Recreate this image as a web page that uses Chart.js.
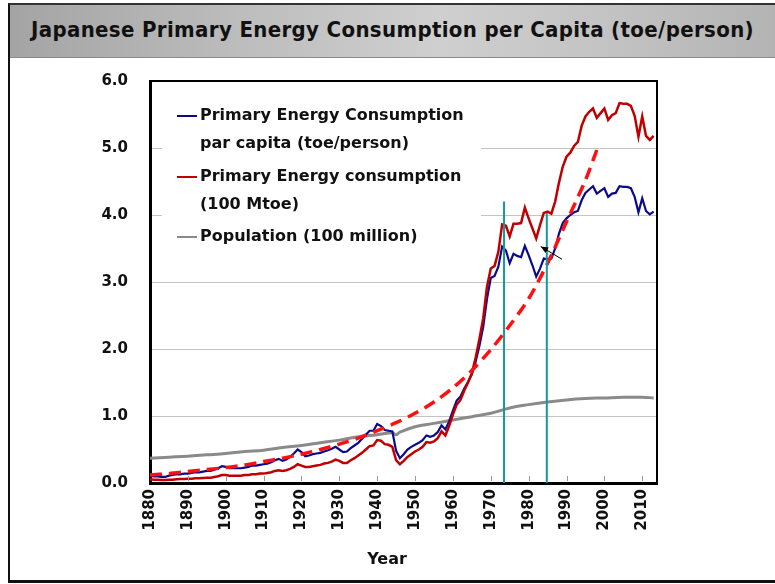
<!DOCTYPE html>
<html>
<head>
<meta charset="utf-8">
<script src="https://cdn.jsdelivr.net/npm/chart.js@4.4.0/dist/chart.umd.min.js"></script>
<style>
  html, body { margin: 0; padding: 0; background: #fff; }
  #page { position: relative; width: 775px; height: 584px; overflow: hidden; }
  #frame {
    position: absolute; left: 8px; top: 3px; width: 780px; height: 575px;
    border-left: 2px solid #111; border-top: 2px solid #333; border-bottom: 3px solid #111;
  }
  #titlebar {
    position: absolute; left: 0; top: 0; right: 0; height: 52px;
    background: linear-gradient(to right, #a4a4a4 0%, #bdbdbd 30%, #cfcfcf 55%, #c4c4c4 75%, #b2b2b2 100%);
    border-bottom: 1px solid #8a8a8a;
  }
  #title {
    position: absolute; left: 21px; top: 12px;
    font-family: "DejaVu Sans Condensed", "DejaVu Sans", sans-serif;
    font-weight: bold; font-size: 22px; letter-spacing: 0.35px; color: #111; white-space: nowrap;
  }
  #chart { position: absolute; left: 0; top: 0; }
</style>
</head>
<body>
<div id="page">
  <div id="frame">
    <div id="titlebar"><div id="title">Japanese Primary Energy Consumption per Capita (toe/person)</div></div>
  </div>
  <canvas id="chart" width="775" height="584"></canvas>
</div>
<script>
// data
const firstYear = 1880;

// primary energy consumption per capita (toe/person), 1880-2013
const perCapita = [
  0.11, 0.10, 0.10, 0.09, 0.09, 0.11, 0.12, 0.13, 0.13, 0.14,
  0.14, 0.15, 0.16, 0.16, 0.17, 0.18, 0.18, 0.20, 0.22, 0.25,
  0.24, 0.22, 0.22, 0.22, 0.22, 0.23, 0.24, 0.26, 0.26, 0.27,
  0.28, 0.29, 0.31, 0.34, 0.36, 0.33, 0.35, 0.39, 0.44, 0.50,
  0.46, 0.40, 0.41, 0.43, 0.44, 0.45, 0.47, 0.49, 0.51, 0.54,
  0.50, 0.46, 0.47, 0.52, 0.56, 0.60, 0.66, 0.72, 0.78, 0.78,
  0.88, 0.85, 0.79, 0.78, 0.77, 0.48, 0.37, 0.43, 0.50, 0.54,
  0.57, 0.60, 0.64, 0.71, 0.69, 0.71, 0.76, 0.86, 0.80, 0.92,
  1.08, 1.23, 1.29, 1.41, 1.51, 1.62, 1.81, 2.05, 2.33, 2.75,
  3.06, 3.09, 3.23, 3.53, 3.47, 3.28, 3.42, 3.39, 3.37, 3.54,
  3.40, 3.25, 3.08, 3.20, 3.35, 3.34, 3.35, 3.50, 3.72, 3.88,
  3.95, 4.00, 4.04, 4.06, 4.22, 4.33, 4.38, 4.43, 4.32, 4.36,
  4.40, 4.27, 4.32, 4.33, 4.43, 4.42, 4.42, 4.40, 4.27, 4.04,
  4.25, 4.06, 4.01, 4.05
];

// primary energy consumption (100 Mtoe), 1880-2013
const totalEnergy = [
  0.055, 0.05, 0.05, 0.045, 0.045, 0.05, 0.05, 0.055, 0.06, 0.06,
  0.065, 0.065, 0.07, 0.07, 0.075, 0.08, 0.08, 0.09, 0.10, 0.12,
  0.12, 0.11, 0.11, 0.11, 0.11, 0.12, 0.12, 0.13, 0.13, 0.14,
  0.14, 0.15, 0.16, 0.18, 0.19, 0.18, 0.19, 0.21, 0.24, 0.28,
  0.26, 0.24, 0.24, 0.25, 0.26, 0.27, 0.29, 0.30, 0.32, 0.35,
  0.33, 0.30, 0.30, 0.34, 0.37, 0.41, 0.45, 0.50, 0.55, 0.56,
  0.64, 0.63, 0.58, 0.57, 0.54, 0.34, 0.28, 0.33, 0.39, 0.43,
  0.47, 0.50, 0.54, 0.61, 0.60, 0.62, 0.67, 0.77, 0.71, 0.85,
  1.02, 1.17, 1.24, 1.38, 1.50, 1.64, 1.87, 2.15, 2.46, 2.93,
  3.20, 3.24, 3.45, 3.86, 3.84, 3.68, 3.87, 3.87, 3.88, 4.11,
  3.95, 3.80, 3.65, 3.85, 4.03, 4.05, 4.02, 4.20, 4.48, 4.72,
  4.87, 4.93, 5.03, 5.09, 5.33, 5.47, 5.54, 5.59, 5.45, 5.52,
  5.59, 5.42, 5.49, 5.52, 5.67, 5.66, 5.66, 5.63, 5.48, 5.17,
  5.47, 5.18, 5.12, 5.18
];

// population (100 million)
const popYears = [1880, 1885, 1890, 1895, 1900, 1905, 1910, 1915, 1920, 1925, 1930, 1935, 1940, 1944, 1945, 1946, 1950, 1955, 1960, 1965, 1970, 1975, 1980, 1985, 1990, 1995, 2000, 2005, 2010, 2013];
const population = [0.37, 0.385, 0.40, 0.42, 0.44, 0.47, 0.49, 0.53, 0.56, 0.60, 0.64, 0.69, 0.72, 0.75, 0.72, 0.76, 0.84, 0.89, 0.94, 0.99, 1.04, 1.12, 1.17, 1.21, 1.24, 1.26, 1.27, 1.28, 1.28, 1.27];

// exponential trend of per capita consumption (red dashed)
const trendYears = [1880, 1885, 1890, 1895, 1900, 1905, 1910, 1915, 1920, 1925, 1930, 1935, 1940, 1945, 1950, 1955, 1960, 1965, 1970, 1975, 1980, 1985, 1990, 1995, 1998];
const trend = [0.12, 0.14, 0.17, 0.20, 0.23, 0.27, 0.32, 0.37, 0.43, 0.50, 0.58, 0.67, 0.78, 0.90, 1.04, 1.21, 1.42, 1.68, 1.99, 2.35, 2.75, 3.28, 3.90, 4.52, 4.97];

// oil shock markers
const shockYears = [1973.5, 1984.8];
const shockTops = [4.2, 4.03];

// arrow annotation (tail, head)
const arrowFrom = [1988.8, 3.34];
const arrowTo = [1983.2, 3.53];

const yTicks = [0, 1, 2, 3, 4, 5, 6];
const seriesNames = [
  ['Primary Energy Consumption', 'par capita (toe/person)'],
  ['Primary Energy consumption', '(100 Mtoe)'],
  ['Population (100 million)']
];
const xTitle = 'Year';

const BLUE = '#0a0a8a';
const RED = '#c00000';
const GREY = '#8a8a8a';
const TEAL = '#109c9c';
const FONT = '"DejaVu Sans", Verdana, sans-serif';

const toPoints = (xs, ys) => ys.map((v, i) => ({x: xs[i], y: v}));
const annualYears = perCapita.map((_, i) => firstYear + i);

const shockSets = shockYears.map((yr, i) => ({
  data: [{x: yr, y: 0}, {x: yr, y: shockTops[i]}],
  borderColor: TEAL,
  borderWidth: 2,
  pointRadius: 0,
  order: 0
}));

// legend box, frame, inward ticks, arrow, axis title
const decor = {
  id: 'decor',
  beforeDatasetsDraw(chart) {
    const ctx = chart.ctx;
    ctx.save();
    ctx.fillStyle = '#fff';
    ctx.fillRect(162, 92, 319, 170);
    ctx.restore();
  },
  afterDraw(chart) {
    const ctx = chart.ctx;
    const area = chart.chartArea;
    const xs = chart.scales.x;
    const ys = chart.scales.y;
    ctx.save();

    // top and right border
    ctx.strokeStyle = '#000';
    ctx.lineWidth = 2;
    ctx.beginPath();
    ctx.moveTo(area.left, area.top);
    ctx.lineTo(area.right, area.top);
    ctx.lineTo(area.right, area.bottom);
    ctx.stroke();

    // small inward ticks on x axis
    ctx.strokeStyle = '#999';
    ctx.lineWidth = 1;
    for (let yr = 1890; yr <= 2010; yr += 10) {
      const px = Math.round(xs.getPixelForValue(yr)) + 0.5;
      ctx.beginPath();
      ctx.moveTo(px, area.bottom - 2);
      ctx.lineTo(px, area.bottom - 7);
      ctx.stroke();
    }

    // arrow
    const ax1 = xs.getPixelForValue(arrowFrom[0]), ay1 = ys.getPixelForValue(arrowFrom[1]);
    const ax2 = xs.getPixelForValue(arrowTo[0]), ay2 = ys.getPixelForValue(arrowTo[1]);
    ctx.strokeStyle = '#000';
    ctx.fillStyle = '#000';
    ctx.lineWidth = 1;
    ctx.beginPath();
    ctx.moveTo(ax1, ay1);
    ctx.lineTo(ax2, ay2);
    ctx.stroke();
    const ang = Math.atan2(ay2 - ay1, ax2 - ax1);
    ctx.beginPath();
    ctx.moveTo(ax2, ay2);
    ctx.lineTo(ax2 - 8 * Math.cos(ang - 0.4), ay2 - 8 * Math.sin(ang - 0.4));
    ctx.lineTo(ax2 - 8 * Math.cos(ang + 0.4), ay2 - 8 * Math.sin(ang + 0.4));
    ctx.closePath();
    ctx.fill();

    // legend
    const colors = [BLUE, RED, GREY];
    const rowY = [116, 177, 237];
    ctx.font = 'bold 16px ' + FONT;
    ctx.textBaseline = 'middle';
    ctx.textAlign = 'left';
    seriesNames.forEach((lines, i) => {
      ctx.strokeStyle = colors[i];
      ctx.lineWidth = 2;
      ctx.beginPath();
      ctx.moveTo(177, rowY[i]);
      ctx.lineTo(197, rowY[i]);
      ctx.stroke();
      ctx.fillStyle = '#111';
      lines.forEach((t, j) => ctx.fillText(t, 200, rowY[i] + j * 28));
    });

    // x axis title
    ctx.font = 'bold 16px ' + FONT;
    ctx.textAlign = 'center';
    ctx.fillText(xTitle, 387, 560);
    ctx.restore();
  }
};

new Chart(document.getElementById('chart'), {
  type: 'line',
  data: {
    datasets: [
      {
        label: 'trend',
        data: toPoints(trendYears, trend),
        borderColor: '#ff1010',
        borderWidth: 3.5,
        borderDash: [12, 7],
        pointRadius: 0,
        tension: 0.3,
        order: 1
      },
      {
        label: seriesNames[0].join(' '),
        data: toPoints(annualYears, perCapita),
        borderColor: BLUE,
        borderWidth: 2.2,
        pointRadius: 0,
        order: 3
      },
      {
        label: seriesNames[1].join(' '),
        data: toPoints(annualYears, totalEnergy),
        borderColor: RED,
        borderWidth: 2.5,
        pointRadius: 0,
        order: 2
      },
      {
        label: seriesNames[2][0],
        data: toPoints(popYears, population),
        borderColor: GREY,
        borderWidth: 3,
        pointRadius: 0,
        tension: 0.4,
        order: 4
      },
      ...shockSets
    ]
  },
  options: {
    responsive: false,
    animation: false,
    devicePixelRatio: 1,
    layout: { padding: { left: 10, right: 118, top: 81, bottom: 5 } },
    plugins: { legend: { display: false }, tooltip: { enabled: false } },
    scales: {
      x: {
        type: 'linear',
        min: 1880,
        max: 2013.9,
        afterFit: (s) => { s.height = 96; },
        ticks: {
          stepSize: 10,
          includeBounds: false,
          autoSkip: false,
          minRotation: 90,
          maxRotation: 90,
          padding: 6,
          color: '#111',
          font: { family: FONT, size: 15, weight: 'bold' },
          callback: (v) => String(v)
        },
        grid: { drawOnChartArea: false, drawTicks: false },
        border: { color: '#000', width: 3 }
      },
      y: {
        min: 0,
        max: 6,
        afterFit: (s) => { s.width = 140; },
        afterBuildTicks: (s) => { s.ticks = yTicks.map((v) => ({value: v})); },
        ticks: {
          padding: 22,
          color: '#111',
          font: { family: FONT, size: 15, weight: 'bold' },
          callback: (v) => v.toFixed(1)
        },
        grid: {
          drawTicks: false,
          color: (c) => (c.tick && (c.tick.value === 0 || c.tick.value === 6)) ? 'rgba(0,0,0,0)' : '#c4c4c4',
          lineWidth: 1
        },
        border: { color: '#000', width: 3 }
      }
    }
  },
  plugins: [decor]
});
</script>
</body>
</html>
